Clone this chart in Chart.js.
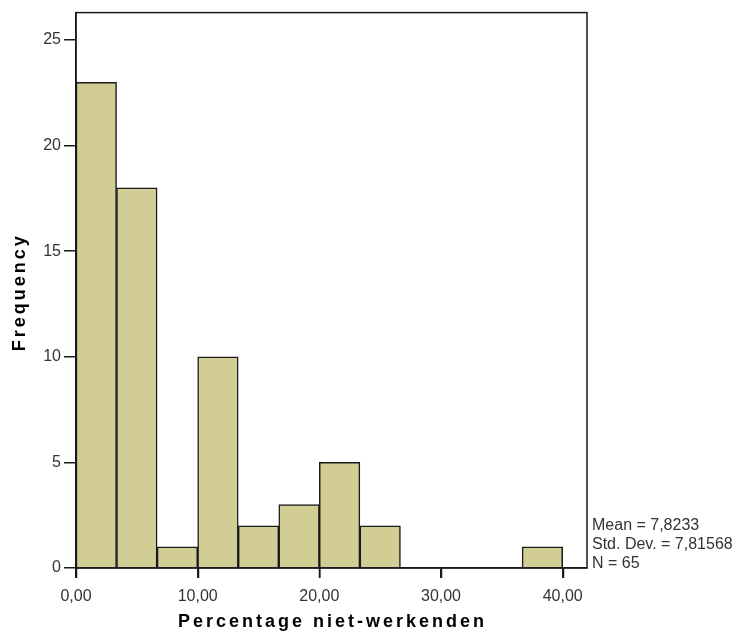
<!DOCTYPE html>
<html>
<head>
<meta charset="utf-8">
<title>Percentage niet-werkenden</title>
<script src="https://cdn.jsdelivr.net/npm/chart.js@4/dist/chart.umd.min.js"></script>
<style>
  html, body { margin: 0; padding: 0; background: #fff; }
  canvas { display: block; }
</style>
</head>
<body>
<canvas id="histogram" width="741" height="634"></canvas>
<script>
// Histogram data (bins of 10/3 percentage points)
const binStarts = [0, 3.3333, 6.6667, 10, 13.3333, 16.6667, 20, 23.3333, 26.6667, 30, 33.3333, 36.6667];
const binWidth = 10 / 3;
const frequencies = [23, 18, 1, 10, 2, 3, 5, 2, 0, 0, 0, 1];
const xTicks = [0, 10, 20, 30, 40];
const yTicks = [0, 5, 10, 15, 20, 25];
const statsLines = ['Mean = 7,8233', 'Std. Dev. = 7,81568', 'N = 65'];

const BAR_COLOR = '#d2cc95';
const LINE_COLOR = '#1a1a1a';
const TEXT_COLOR = '#333333';
const FONT = '"Liberation Sans", Arial, sans-serif';

const points = binStarts.map((start, i) => ({ x: start + binWidth / 2, y: frequencies[i] }));

/**
 * Draws the frame round the plot, the x tick marks, the axis titles and the statistics box.
 * Titles are drawn here so they can carry the wide letter spacing of the original.
 */
const decorations = {
  id: 'decorations',
  afterDraw(chart) {
    const ctx = chart.ctx;
    const area = chart.chartArea;
    const xScale = chart.scales.x;

    ctx.save();
    ctx.strokeStyle = LINE_COLOR;
    ctx.lineWidth = 1.5;
    ctx.strokeRect(area.left, area.top, area.right - area.left, area.bottom - area.top);

    // x tick marks, placed by the scale
    ctx.beginPath();
    xTicks.forEach(v => {
      const px = Math.round(xScale.getPixelForValue(v)) + 0.5;
      ctx.moveTo(px, area.bottom);
      ctx.lineTo(px, area.bottom + 10);
    });
    ctx.stroke();

    // axis titles
    ctx.fillStyle = '#000';
    ctx.font = 'bold 18px ' + FONT;
    ctx.letterSpacing = '3px';
    ctx.textAlign = 'center';
    ctx.textBaseline = 'alphabetic';
    ctx.fillText('Percentage niet-werkenden', (area.left + area.right) / 2 + 1, 627);

    ctx.save();
    ctx.translate(25, (area.top + area.bottom) / 2 + 2);
    ctx.rotate(-Math.PI / 2);
    ctx.fillText('Frequency', 0, 0);
    ctx.restore();

    // statistics
    ctx.letterSpacing = '0px';
    ctx.font = '16px ' + FONT;
    ctx.fillStyle = TEXT_COLOR;
    ctx.textAlign = 'left';
    statsLines.forEach((line, i) => {
      ctx.fillText(line, area.right + 5, 530 + i * 19);
    });
    ctx.restore();
  }
};

const ctx = document.getElementById('histogram').getContext('2d');

new Chart(ctx, {
  type: 'bar',
  data: {
    datasets: [{
      data: points,
      backgroundColor: BAR_COLOR,
      borderColor: LINE_COLOR,
      borderWidth: 1.5,
      barPercentage: 1,
      categoryPercentage: 1
    }]
  },
  options: {
    responsive: false,
    animation: false,
    layout: {
      padding: { left: 0, right: 154, top: 11, bottom: 0 }
    },
    plugins: {
      legend: { display: false },
      tooltip: { enabled: false }
    },
    scales: {
      x: {
        type: 'linear',
        min: 0,
        max: 42,
        offset: false,
        afterBuildTicks: (scale) => {
          scale.ticks = xTicks.map(v => ({ value: v }));
        },
        afterFit: (scale) => { scale.height = 66; },
        ticks: {
          padding: 9,
          color: TEXT_COLOR,
          font: { size: 16, family: FONT },
          callback: (value) => value.toFixed(2).replace('.', ',')
        },
        grid: {
          display: true,
          offset: false,
          drawOnChartArea: false,
          drawTicks: true,
          tickLength: 10,
          color: LINE_COLOR,
          tickColor: LINE_COLOR,
          lineWidth: 1.5,
          tickWidth: 1.5
        },
        border: { display: true, color: LINE_COLOR, width: 1.5 }
      },
      y: {
        min: 0,
        max: 26.3,
        afterBuildTicks: (scale) => {
          scale.ticks = yTicks.map(v => ({ value: v }));
        },
        afterFit: (scale) => { scale.width = 76; },
        ticks: {
          padding: 3,
          color: TEXT_COLOR,
          font: { size: 16, family: FONT }
        },
        grid: {
          display: true,
          drawOnChartArea: false,
          drawTicks: true,
          tickLength: 12,
          color: LINE_COLOR,
          lineWidth: 1.5
        },
        border: { display: true, color: LINE_COLOR, width: 1.5 }
      }
    }
  },
  plugins: [decorations]
});
</script>
</body>
</html>
